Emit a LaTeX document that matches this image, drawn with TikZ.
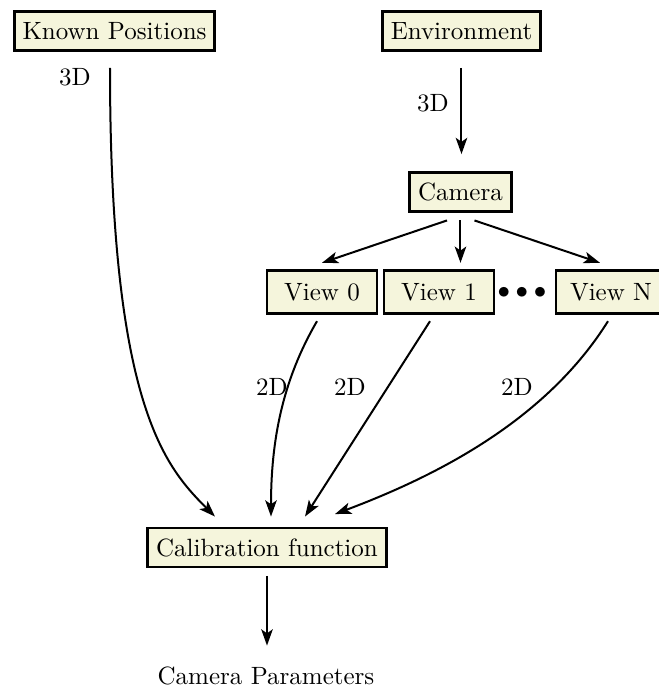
\documentclass[tikz,border=0pt]{standalone}
\usetikzlibrary{arrows.meta}
\definecolor{boxfill}{RGB}{245,245,220}
\begin{document}
\begin{tikzpicture}[x=0.4pt,y=-0.4pt,
  box/.style={draw, line width=1.15pt, fill=boxfill, inner sep=3.3pt, minimum height=15.6pt},
  viewbox/.style={box, minimum width=44pt, minimum height=17.4pt},
  arr/.style={-{Stealth[length=6.5pt,width=4.6pt,inset=1.6pt]}, line width=0.8pt},
  lbl/.style={font=\normalsize}]
\useasboundingbox (0,0) rectangle (659,689);
\node[box] (kp) at (114.5,31) {Known Positions};
\node[box] (env) at (461.5,31) {Environment};
\node[box] (cam) at (460.5,192) {Camera};
\node[viewbox] (v0) at (322,292) {View 0};
\node[viewbox] (v1) at (439,292) {View 1};
\node (dots) at (522,293) {$\bullet\bullet\bullet$};
\node[viewbox] (vn) at (611,292) {View N};
\node[box] (cal) at (267,547.5) {Calibration function};
\node[lbl] (par) at (266,676) {Camera Parameters};

\node[lbl] (l1) at (75,77) {3D};
\node[lbl] (l2) at (433,103) {3D};
\node[lbl] (l3) at (272,387) {2D};
\node[lbl] (l4) at (350,387) {2D};
\node[lbl] (l5) at (517,387) {2D};

\coordinate (envs) at ([yshift=-6.4pt]env.south);
\coordinate (camn) at ([yshift=6.8pt]cam.north);
\draw[arr] ([xshift=-1.8pt,yshift=-6.4pt]kp.south) .. controls +(0,-135pt) and +(-20pt,20pt) .. ([xshift=-20.8pt,yshift=4pt]cal.north);
\draw[arr] (envs) -- (envs |- camn);
\draw[arr] ([xshift=-5.4pt,yshift=-3pt]cam.south) -- ([yshift=2.4pt]v0.north);
\draw[arr] ([yshift=-3pt]cam.south) -- ([yshift=2.4pt]cam.south |- v1.north);
\draw[arr] ([xshift=5.6pt,yshift=-3pt]cam.south) -- ([xshift=-4.4pt,yshift=2.4pt]vn.north);
\draw[arr] ([xshift=-2pt,yshift=-2.4pt]v0.south) .. controls +(-14pt,-24pt) and +(0,30pt) .. ([xshift=1.6pt,yshift=4pt]cal.north);
\draw[arr] ([xshift=-3.6pt,yshift=-2.4pt]v1.south) -- ([xshift=15.2pt,yshift=4pt]cal.north);
\draw[arr] ([xshift=-1.2pt,yshift=-2.4pt]vn.south) .. controls +(-25pt,-40pt) and +(40pt,15pt) .. ([xshift=27.2pt,yshift=5pt]cal.north);
\draw[arr] ([yshift=-3pt]cal.south) -- ([yshift=5pt]cal.south |- par.north);
\end{tikzpicture}
\end{document}
